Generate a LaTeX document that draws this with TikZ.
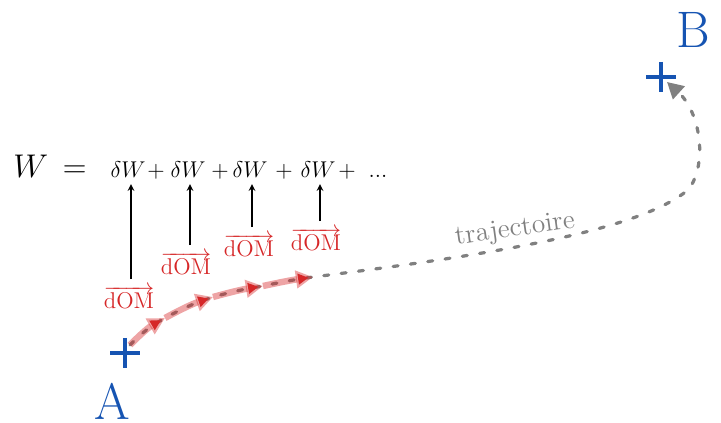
\documentclass[tikz,border=0pt]{standalone}
\usepackage{xcolor}
\usepackage{tikz}
\usetikzlibrary{arrows.meta, positioning, calc}

\definecolor{ptblue}{RGB}{22,84,178}
\definecolor{vecred}{RGB}{214,39,40}
\definecolor{trajgray}{RGB}{128,128,128}

\begin{document}
\begin{tikzpicture}[
    x=0.0185cm, y=-0.0185cm,
    pointlabel/.style={text=ptblue, inner sep=0pt, font=\fontsize{27}{30}\selectfont},
    cross/.style={draw=ptblue, line width=1.9pt},
    traj/.style={draw=trajgray, line width=1.7pt, line cap=round, dash pattern=on 2.6pt off 6.6pt},
    vecseg/.style={draw=vecred, draw opacity=0.42, line width=3.4pt, -{Triangle[length=9pt, width=9pt, fill=vecred]}},
    domlabel/.style={text=vecred, font=\large},
    arrow/.style={->, >=stealth, line width=0.6pt}
]
\useasboundingbox (0,0) rectangle (721,423);

% points A and B
\coordinate (A) at (125,353);
\coordinate (B) at (661,77);
\draw[cross] ($(A)+(-15,0)$) -- ($(A)+(15,0)$) ($(A)+(0,-15)$) -- ($(A)+(0,15)$);
\draw[cross] ($(B)+(-15,0)$) -- ($(B)+(15,0)$) ($(B)+(0,-15)$) -- ($(B)+(0,15)$);
\node[pointlabel] (labA) at (112,401) {A};
\node[pointlabel] (labB) at (693,30) {B};

% trajectory
\coordinate (m0) at (130,345);
\coordinate (m1) at (165,318);
\coordinate (m2) at (213,297);
\coordinate (m3) at (263,286);
\coordinate (m4) at (313,277);
\coordinate (mid) at (689,189);
\coordinate (end) at (667,82);

\draw[traj, -{Triangle[length=8.5pt, width=9pt, fill=trajgray, line cap=butt]}] (m0) to[bend left=8] (m1) to[bend left=5] (m2) to[bend left=3] (m3) to[bend left=2] (m4)
    .. controls (480,256) and (640,232) .. (mid) .. controls (708,162) and (700,112) .. (end);
\node[text=trajgray, font=\Large, rotate=8] (trajlabel) at (515,230) {trajectoire};

% small displacement vectors
\draw[vecseg] (m0) to[bend left=8] (m1);
\draw[vecseg] (m1) to[bend left=5] (m2);
\draw[vecseg] (m2) to[bend left=3] (m3);
\draw[vecseg] (m3) to[bend left=2] (m4);

% work as a sum
\node[font=\LARGE, anchor=base] (W) at (50,178) {$W\,=$};
\foreach \i/\x in {1/128, 2/188, 3/250, 4/318}
    \node[font=\large, anchor=base, inner sep=1pt] (dw\i) at (\x,178) {$\delta W$};
\foreach \i/\x in {1/156, 2/220, 3/284, 4/347}
    \node[font=\large, anchor=base, inner sep=1pt] (plus\i) at (\x,178) {$+$};
\node[font=\large, anchor=base, inner sep=1pt] (dots) at (378,178) {...};

\node[domlabel] (dom1) at (129,297) {$\overrightarrow{\mathrm{dOM}}$};
\node[domlabel] (dom2) at (186,263) {$\overrightarrow{\mathrm{dOM}}$};
\node[domlabel] (dom3) at (249,245) {$\overrightarrow{\mathrm{dOM}}$};
\node[domlabel] (dom4) at (316,239) {$\overrightarrow{\mathrm{dOM}}$};

\foreach \i/\x in {1/131, 2/190, 3/252, 4/320}
    \draw[arrow, shorten >=2pt] (dom\i.north -| \x,0) -- (dw\i.south -| \x,0);

\end{tikzpicture}
\end{document}
